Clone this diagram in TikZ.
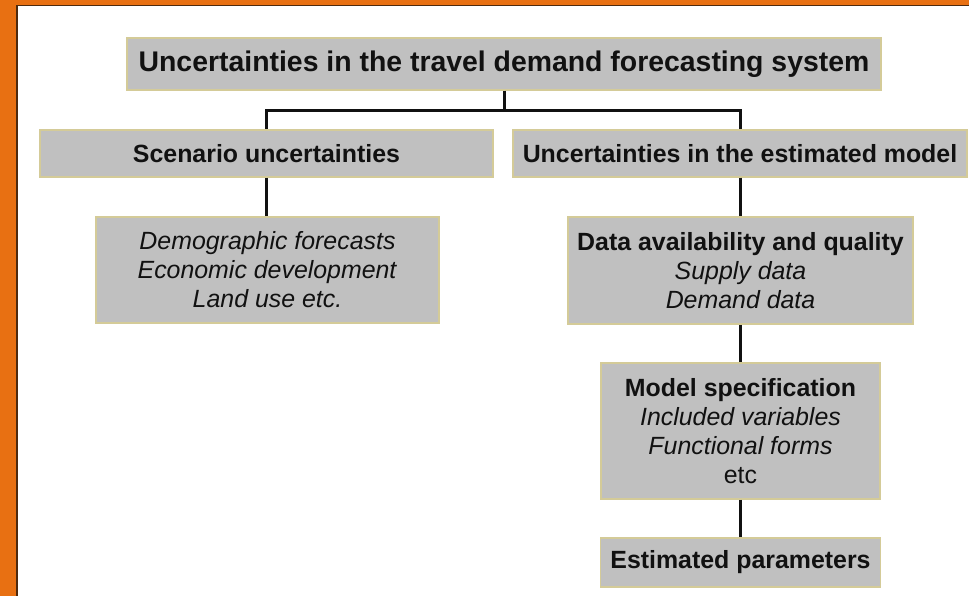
\documentclass[tikz,border=0pt]{standalone}
\usepackage{fontspec}
\setmainfont{Liberation Sans}
\definecolor{frameorange}{HTML}{E87012}
\definecolor{framedark}{HTML}{4E2A0E}
\definecolor{boxfill}{HTML}{C0C0C0}
\definecolor{boxedge}{HTML}{D4CB98}
\definecolor{ink}{HTML}{111111}
\begin{document}
\begin{tikzpicture}[x=1pt,y=-1pt,
  box/.style={draw=boxedge, line width=1.5pt, fill=boxfill, inner sep=0pt,
    align=center, text=ink, font=\fontsize{24.9}{29}\selectfont},
  boldbox/.style={box, font=\bfseries\fontsize{24.9}{29}\selectfont},
  link/.style={line width=3pt, draw=ink}]
  % page area and orange frame
  \useasboundingbox (0,0) rectangle (969,596);
  \fill[white] (0,0) rectangle (969,596);
  \fill[frameorange] (0,0) rectangle (16,596);
  \fill[frameorange] (0,0) rectangle (969,5);
  \fill[framedark] (16,5) rectangle (18,596);
  \fill[framedark] (16,5) rectangle (969,6.5);

  % boxes
  \node[box, minimum width=754pt, minimum height=52pt,
        font=\bfseries\fontsize{28.4}{32}\selectfont] (title) at (504,64)
        {Uncertainties in the travel demand forecasting system};
  \node[boldbox, minimum width=453pt, minimum height=47pt]
        (scen) at (266.5,153.5) {Scenario uncertainties};
  \node[boldbox, minimum width=454pt, minimum height=47pt]
        (est) at (740,153.5) {Uncertainties in the estimated model};
  \node[box, minimum width=343pt, minimum height=106pt] (demo) at (267.5,270)
        {\textit{Demographic forecasts}\\\textit{Economic development}\\\textit{Land use etc.}};
  \node[box, minimum width=345pt, minimum height=107pt] (data) at (740.5,270.5)
        {\textbf{Data availability and quality}\\\textit{Supply data}\\\textit{Demand data}};
  \node[box, minimum width=279pt, minimum height=136pt] (spec) at (740.5,431)
        {\textbf{Model specification}\\\textit{Included variables}\\\textit{Functional forms}\\etc};
  \node[boldbox, minimum width=280pt, minimum height=49pt]
        (param) at (740.5,562.5) {Estimated parameters};

  % connectors
  \coordinate (fork) at (504,111);
  \draw[link] (title.south) -- (fork);
  \draw[link] (fork) -| (scen.north);
  \draw[link] (fork) -| (est.north);
  \draw[link] (scen.south) -- (scen.south |- demo.north);
  \draw[link] (est.south) -- (est.south |- data.north);
  \draw[link] (data.south) -- (data.south |- spec.north);
  \draw[link] (spec.south) -- (spec.south |- param.north);
\end{tikzpicture}
\end{document}
